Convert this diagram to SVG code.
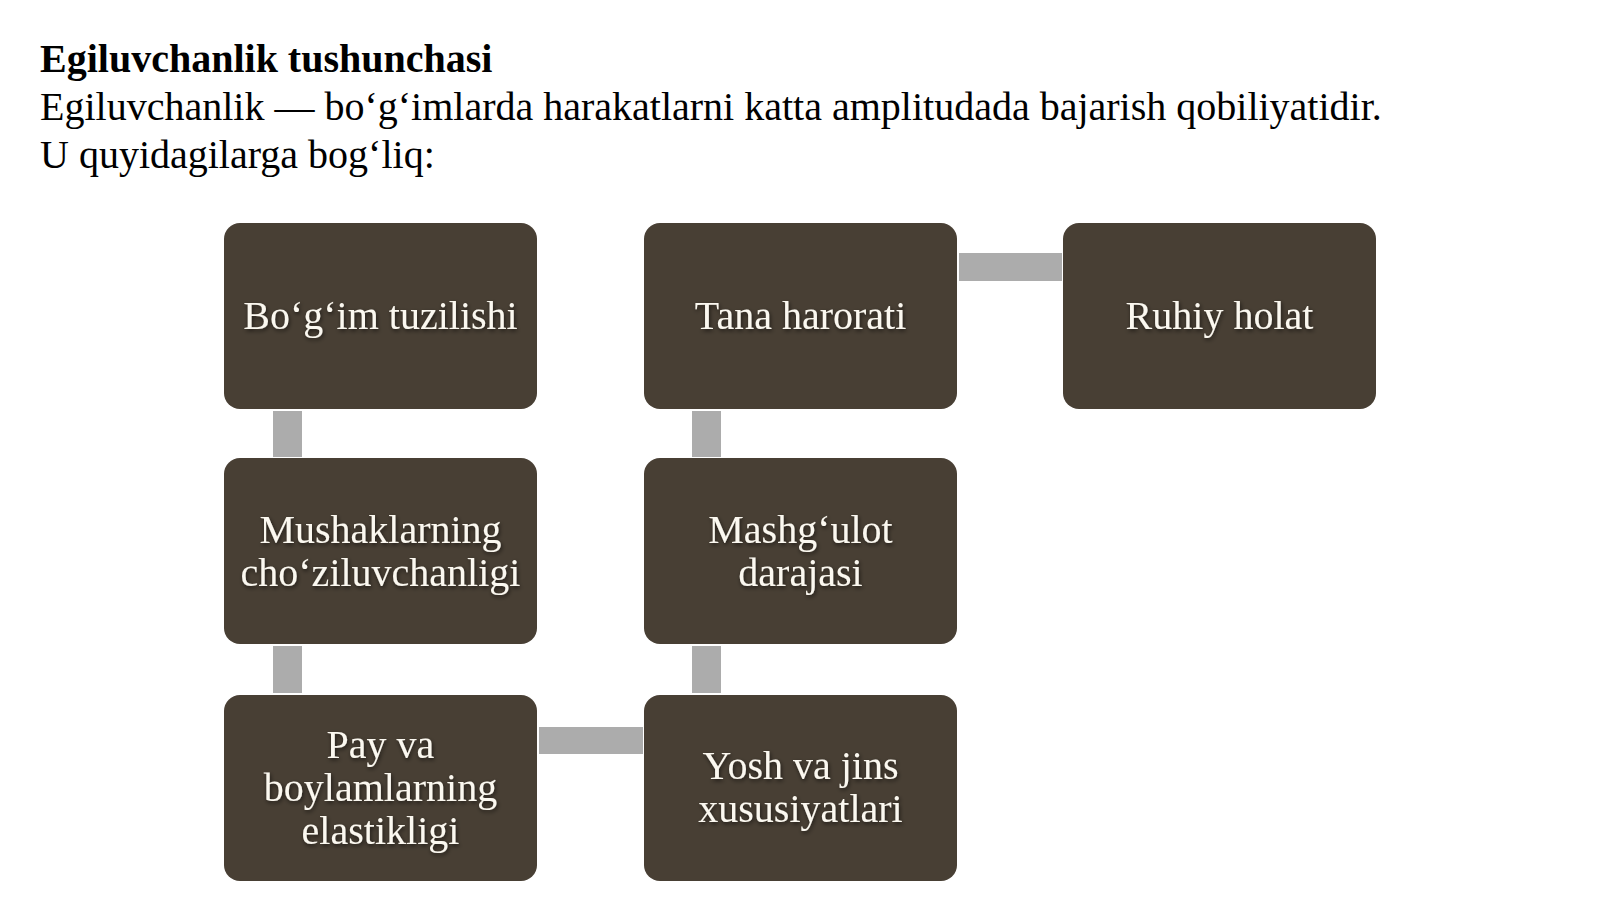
<svg xmlns="http://www.w3.org/2000/svg" width="1600" height="899" viewBox="0 0 1600 899">
<defs>
<style>
.hd{font-family:"Liberation Serif","Times New Roman",serif;fill:#000;font-size:40px}
.b{font-weight:bold}
.box{fill:#483f34}
.lbl{font-family:"Liberation Serif","Times New Roman",serif;font-size:40px;fill:#fbf8f0;text-anchor:middle}
.con{fill:#acacac}
</style>
<filter id="sh" x="-10%" y="-30%" width="120%" height="160%">
<feDropShadow dx="1" dy="2" stdDeviation="2" flood-color="#000" flood-opacity="0.6"/>
</filter>
</defs>
<rect width="1600" height="899" fill="#fff"/>
<g id="heading">
<text class="hd b" x="40" y="72">Egiluvchanlik tushunchasi</text>
<text class="hd" x="40" y="120">Egiluvchanlik — bo‘g‘imlarda harakatlarni katta amplitudada bajarish qobiliyatidir.</text>
<text class="hd" x="40" y="168">U quyidagilarga bog‘liq:</text>
</g>
<g id="connectors">
<rect class="con" x="273" y="411" width="29" height="46"/>
<rect class="con" x="273" y="646" width="29" height="47"/>
<rect class="con" x="539" y="727" width="104" height="27"/>
<rect class="con" x="692" y="646" width="29" height="47"/>
<rect class="con" x="692" y="411" width="29" height="46"/>
<rect class="con" x="959" y="253" width="103" height="28"/>
</g>
<g id="n1"><rect class="box" x="224" y="223" width="313" height="186" rx="16"/>
<text class="lbl" filter="url(#sh)" x="380.5" y="329">Bo‘g‘im tuzilishi</text></g>
<g id="n2"><rect class="box" x="224" y="458" width="313" height="186" rx="16"/>
<text class="lbl" filter="url(#sh)" x="380.5" y="543">Mushaklarning</text>
<text class="lbl" filter="url(#sh)" x="380.5" y="586">cho‘ziluvchanligi</text></g>
<g id="n3"><rect class="box" x="224" y="695" width="313" height="186" rx="16"/>
<text class="lbl" filter="url(#sh)" x="380.5" y="758">Pay va</text>
<text class="lbl" filter="url(#sh)" x="380.5" y="801">boylamlarning</text>
<text class="lbl" filter="url(#sh)" x="380.5" y="844">elastikligi</text></g>
<g id="n4"><rect class="box" x="644" y="695" width="313" height="186" rx="16"/>
<text class="lbl" filter="url(#sh)" x="800.5" y="779">Yosh va jins</text>
<text class="lbl" filter="url(#sh)" x="800.5" y="822">xususiyatlari</text></g>
<g id="n5"><rect class="box" x="644" y="458" width="313" height="186" rx="16"/>
<text class="lbl" filter="url(#sh)" x="800.5" y="543">Mashg‘ulot</text>
<text class="lbl" filter="url(#sh)" x="800.5" y="586">darajasi</text></g>
<g id="n6"><rect class="box" x="644" y="223" width="313" height="186" rx="16"/>
<text class="lbl" filter="url(#sh)" x="800.5" y="329">Tana harorati</text></g>
<g id="n7"><rect class="box" x="1063" y="223" width="313" height="186" rx="16"/>
<text class="lbl" filter="url(#sh)" x="1219.5" y="329">Ruhiy holat</text></g>
</svg>
